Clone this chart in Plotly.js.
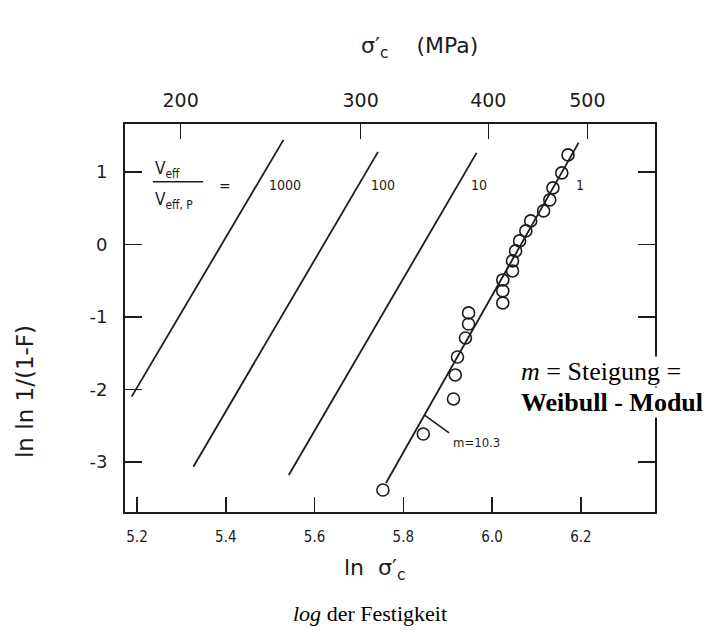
<!DOCTYPE html>
<html>
<head>
<meta charset="utf-8">
<script src="https://cdn.plot.ly/plotly-3.0.1.min.js"></script>
<style>html,body{margin:0;padding:0;background:#fff;}#plot{width:728px;height:635px;}</style>
</head>
<body>
<div id="plot"></div>
<script>
// measured specimens: ln(strength) vs ln ln 1/(1-F)
const lnSigma = [6.171, 6.157, 6.137, 6.130, 6.116, 6.087, 6.076, 6.062, 6.053, 6.046, 6.046,
                 6.024, 6.024, 6.024, 5.947, 5.947, 5.940, 5.922, 5.917, 5.913, 5.845, 5.754];
const lnlnF = [1.234, 0.986, 0.779, 0.614, 0.462, 0.324, 0.186, 0.048, -0.090, -0.228, -0.366,
               -0.490, -0.641, -0.807, -0.945, -1.097, -1.290, -1.552, -1.800, -2.131, -2.614, -3.386];

// Weibull lines for volume ratios V_eff / V_eff,P
const volRatios = ['1000', '100', '10', '1'];
const lineX0 = [5.188, 5.327, 5.542, 5.761];
const lineY0 = [-2.099, -3.065, -3.179, -3.290];
const lineX1 = [5.530, 5.743, 5.965, 6.195];
const lineY1 = [1.441, 1.276, 1.262, 1.404];
const labelX = [5.494, 5.723, 5.947, 6.184];
const labelY = [0.82, 0.82, 0.82, 0.82];

// slope marker
const slopeLeaderX = [5.847, 5.903];
const slopeLeaderY = [-2.352, -2.600];
const slopeText = 'm=10.3';

// axes
const xTicks = [5.2, 5.4, 5.6, 5.8, 6.0, 6.2];
const xTickText = ['5.2', '5.4', '5.6', '5.8', '6.0', '6.2'];
const yTicks = [-3, -2, -1, 0, 1];
const yTickText = ['-3', '-2', '-1', '0', '1'];
const topTickMPa = [200, 300, 400, 500];

const ink = '#1c1c1c';
const techFont = 'DejaVu Sans, sans-serif';
const techNarrow = 'DejaVu Sans Condensed, DejaVu Sans, sans-serif';
const serif = 'Liberation Serif, Times New Roman, serif';
const xRange = [5.173, 6.367];
const yRange = [-3.69, 1.66];

const traces = [];
volRatios.forEach((r, i) => {
  traces.push({
    x: [lineX0[i], lineX1[i]], y: [lineY0[i], lineY1[i]],
    mode: 'lines', line: {color: ink, width: 1.8}, hoverinfo: 'skip', showlegend: false
  });
});
traces.push({
  x: slopeLeaderX, y: slopeLeaderY, mode: 'lines',
  line: {color: ink, width: 1.6}, hoverinfo: 'skip', showlegend: false
});
traces.push({
  x: lnSigma, y: lnlnF, mode: 'markers',
  marker: {symbol: 'circle-open', size: 12, color: ink, line: {width: 1.6, color: ink}},
  showlegend: false
});
// carrier for the top (MPa) axis
const topVals = topTickMPa.map(v => Math.log(v));
traces.push({
  x: topVals, y: topVals.map(() => yRange[0]), xaxis: 'x2', mode: 'markers',
  marker: {opacity: 0}, hoverinfo: 'skip', showlegend: false
});

const annotations = [];
volRatios.forEach((r, i) => {
  annotations.push({
    x: labelX[i], y: labelY[i], xref: 'x', yref: 'y', text: r, showarrow: false,
    xanchor: 'left', yanchor: 'middle', font: {family: techNarrow, size: 14, color: ink}
  });
});
annotations.push(
  {x: 5.236, y: 1.03, xref: 'x', yref: 'y', text: 'V<sub>eff</sub>', showarrow: false,
   xanchor: 'left', yanchor: 'middle', font: {family: techNarrow, size: 17, color: ink}},
  {x: 5.236, y: 0.60, xref: 'x', yref: 'y', text: 'V<sub>eff, P</sub>', showarrow: false,
   xanchor: 'left', yanchor: 'middle', font: {family: techNarrow, size: 17, color: ink}},
  {x: 5.399, y: 0.80, xref: 'x', yref: 'y', text: '=', showarrow: false,
   xanchor: 'center', yanchor: 'middle', font: {family: techFont, size: 14, color: ink}},
  {x: 5.908, y: -2.738, xref: 'x', yref: 'y', text: slopeText, showarrow: false,
   xanchor: 'left', yanchor: 'middle', font: {family: techNarrow, size: 13, color: ink}},
  {x: 6.062, y: -1.759, xref: 'x', yref: 'y', text: '<i>m</i> = Steigung =', showarrow: false,
   xanchor: 'left', yanchor: 'middle', bgcolor: '#fff', borderpad: 0,
   font: {family: serif, size: 26, color: '#000'}},
  {x: 6.062, y: -2.18, xref: 'x', yref: 'y', text: '<b>Weibull - Modul</b>', showarrow: false,
   xanchor: 'left', yanchor: 'middle', bgcolor: '#fff', borderpad: 0,
   font: {family: serif, size: 26, color: '#000'}},
  {x: 0.47, y: -0.149, xref: 'paper', yref: 'paper', text: 'ln  σ′<sub>c</sub>', showarrow: false,
   xanchor: 'center', yanchor: 'middle', font: {family: techFont, size: 22, color: ink}},
  {x: 0.462, y: -0.262, xref: 'paper', yref: 'paper', text: '<i>log</i> der Festigkeit', showarrow: false,
   xanchor: 'center', yanchor: 'middle', font: {family: serif, size: 22, color: '#000'}},
  {x: 0.555, y: 1.196, xref: 'paper', yref: 'paper', text: 'σ′<sub>c</sub>    (MPa)', showarrow: false,
   xanchor: 'center', yanchor: 'middle', font: {family: techFont, size: 22, color: ink}},
  {x: -0.19, y: 0.31, xref: 'paper', yref: 'paper', text: 'ln ln 1/(1-F)', showarrow: false,
   textangle: -90, xanchor: 'center', yanchor: 'middle', font: {family: techFont, size: 23, color: ink}}
);

const shapes = [
  {type: 'line', xref: 'x', yref: 'y', x0: 5.236, x1: 5.349, y0: 0.862, y1: 0.862,
   line: {color: ink, width: 1.5}}
];

const layout = {
  width: 728, height: 635,
  margin: {l: 125, r: 73, t: 124, b: 123},
  paper_bgcolor: '#fff', plot_bgcolor: '#fff',
  showlegend: false,
  xaxis: {
    range: xRange, tickvals: xTicks, ticktext: xTickText,
    ticks: 'inside', ticklen: 15, tickwidth: 1.5, tickcolor: ink,
    showline: true, linecolor: ink, linewidth: 2, mirror: false,
    showgrid: false, zeroline: false, ticklabelstandoff: 10,
    tickfont: {family: techNarrow, size: 15, color: ink}
  },
  xaxis2: {
    overlaying: 'x', side: 'top', range: xRange,
    tickvals: topVals, ticktext: topTickMPa.map(String),
    ticks: 'inside', ticklen: 15, tickwidth: 1.5, tickcolor: ink,
    showline: true, linecolor: ink, linewidth: 2,
    showgrid: false, zeroline: false, ticklabelstandoff: 7,
    tickfont: {family: techFont, size: 19, color: ink}
  },
  yaxis: {
    range: yRange, tickvals: yTicks, ticktext: yTickText,
    ticks: 'inside', ticklen: 17, tickwidth: 1.5, tickcolor: ink,
    showline: true, linecolor: ink, linewidth: 2, mirror: 'ticks',
    showgrid: false, zeroline: false, ticklabelstandoff: 12,
    tickfont: {family: techFont, size: 18, color: ink}
  },
  annotations: annotations,
  shapes: shapes
};

Plotly.newPlot('plot', traces, layout, {staticPlot: true, displayModeBar: false});
</script>
</body>
</html>
